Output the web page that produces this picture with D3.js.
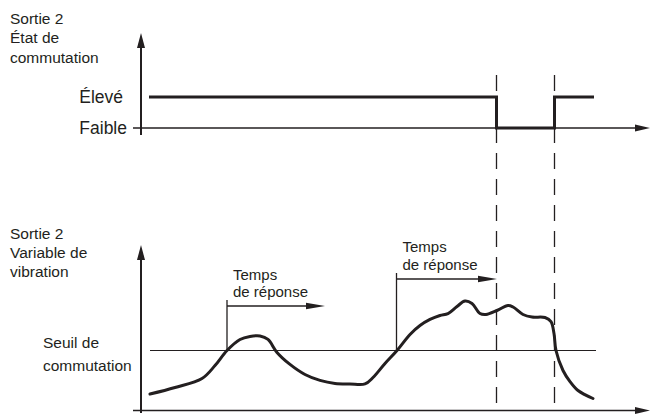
<!DOCTYPE html>
<html>
<head>
<meta charset="utf-8">
<script src="https://cdn.jsdelivr.net/npm/d3@7/dist/d3.min.js"></script>
<style>
  html, body { margin: 0; padding: 0; background: #fff; }
  svg { display: block; }
  text { font-family: "Liberation Sans", Arial, Helvetica, sans-serif; font-size: 15.5px; fill: #231f20; }
  text.state { font-size: 17.5px; }
  text.resp { font-size: 15px; }
</style>
</head>
<body>
<svg id="chart" width="651" height="416"></svg>
<script>
// ---------- DATA ----------
// time axis (arbitrary units 0..100)
const vibTime = [1.8, 6.8, 12.2, 14.8, 17.2, 19.8, 21.8, 23.8, 25.4, 27.2, 29.8, 32.8, 35.8, 38.8, 41.8, 44.8,
                 46.4, 48.8, 51.2, 53.8, 55.8, 57.8, 59.8, 61.4, 63.2, 64.8, 66.2, 67.8, 69.0, 71.2, 73.4, 74.4,
                 76.4, 78.2, 80.8, 82.0, 82.6, 83.0, 84.4, 85.8, 87.4, 90.4];
const vibValue = [10.3, 14.4, 20.0, 28.1, 37.5, 44.4, 46.3, 46.6, 44.4, 36.3, 28.8, 22.5, 18.8, 16.9, 16.6, 16.6,
                  20.6, 29.4, 37.5, 47.5, 53.1, 56.9, 59.4, 60.6, 65.0, 68.4, 66.9, 60.6, 60.0, 62.5, 65.6, 64.7,
                  60.0, 58.4, 58.1, 55.6, 48.1, 37.5, 25.0, 18.1, 12.5, 7.5];
const threshold = 37.5;
const thresholdSpan = [1.8, 91.0];

const stateTime  = [1.6, 71.1, 82.7, 90.6];
const stateValue = [1, 0, 1, 1];           // 1 = Élevé, 0 = Faible
const stateLabels = ["Faible", "Élevé"];

const switchTimes = [71.1, 82.7];
const responseStart = [17.2, 51.1];
const responseEnd   = [36.8, 71.2];

const topTitle    = ["Sortie 2", "État de", "commutation"];
const bottomTitle = ["Sortie 2", "Variable de", "vibration"];
const thresholdLabel = ["Seuil de", "commutation"];
const responseLabel  = ["Temps", "de réponse"];

// ---------- SCALES ----------
const ink = "#231f20";
const svg = d3.select("#chart");

const x = d3.scaleLinear().domain([0, 100]).range([141, 641]);
const yState = d3.scaleLinear().domain([0, 1]).range([128, 97]);
const yVib = d3.scaleLinear().domain([0, 100]).range([410.5, 250.5]);

function arrowHead(g, tipX, tipY, dir, len, half) {
  let pts;
  if (dir === "right") pts = [[tipX, tipY], [tipX - len, tipY - half], [tipX - len, tipY + half]];
  else pts = [[tipX, tipY], [tipX - half, tipY + len], [tipX + half, tipY + len]];
  g.append("path").attr("d", d3.line()(pts) + "Z").attr("fill", ink);
}

// ---------- TOP PANEL ----------
const gTop = svg.append("g");
gTop.append("line").attr("x1", x(0)).attr("x2", x(0)).attr("y1", 135).attr("y2", 44)
  .attr("stroke", ink).attr("stroke-width", 2);
arrowHead(gTop, x(0), 33, "up", 15, 4);
gTop.append("line").attr("x1", 133).attr("x2", 640).attr("y1", yState(0)).attr("y2", yState(0))
  .attr("stroke", ink).attr("stroke-width", 1.3);
arrowHead(gTop, 650, yState(0), "right", 15, 3.5);

gTop.append("path")
  .datum(stateTime.map((t, i) => [t, stateValue[i]]))
  .attr("d", d3.line().x(d => x(d[0])).y(d => yState(d[1])).curve(d3.curveStepAfter))
  .attr("fill", "none").attr("stroke", ink).attr("stroke-width", 3);

gTop.append("text").attr("class", "state").attr("x", 123).attr("y", yState(1) + 6.3)
  .attr("text-anchor", "end").text(stateLabels[1]);
gTop.append("text").attr("class", "state").attr("x", 127).attr("y", yState(0) + 6.3)
  .attr("text-anchor", "end").text(stateLabels[0]);

gTop.selectAll("text.title").data(topTitle).join("text").attr("class", "title")
  .attr("x", 10).attr("y", (d, i) => 23.5 + i * 19.5).text(d => d);

// ---------- BOTTOM PANEL ----------
const gBot = svg.append("g");
gBot.append("line").attr("x1", x(0)).attr("x2", x(0)).attr("y1", 413).attr("y2", 256)
  .attr("stroke", ink).attr("stroke-width", 2);
arrowHead(gBot, x(0), 245, "up", 15, 4);
gBot.append("line").attr("x1", 133).attr("x2", 640).attr("y1", yVib(0)).attr("y2", yVib(0))
  .attr("stroke", ink).attr("stroke-width", 1.4);
arrowHead(gBot, 650, yVib(0), "right", 15, 3.5);

gBot.append("line").attr("x1", x(thresholdSpan[0])).attr("x2", x(thresholdSpan[1]))
  .attr("y1", yVib(threshold)).attr("y2", yVib(threshold))
  .attr("stroke", ink).attr("stroke-width", 1.2);

gBot.append("path")
  .datum(vibTime.map((t, i) => [t, vibValue[i]]))
  .attr("d", d3.line().x(d => x(d[0])).y(d => yVib(d[1])).curve(d3.curveCatmullRom.alpha(0.5)))
  .attr("fill", "none").attr("stroke", ink).attr("stroke-width", 3)
  .attr("stroke-linejoin", "round").attr("stroke-linecap", "round");

gBot.selectAll("text.title").data(bottomTitle).join("text").attr("class", "title")
  .attr("x", 10).attr("y", (d, i) => 238.5 + i * 19).text(d => d);
gBot.selectAll("text.thr").data(thresholdLabel).join("text").attr("class", "thr")
  .attr("x", 43).attr("y", (d, i) => 348 + i * 23).text(d => d);

const arrowY = [306, 279];
const labelBase = [279.5, 252];
responseStart.forEach((s, i) => {
  const g = gBot.append("g");
  g.append("line").attr("x1", x(s)).attr("x2", x(s)).attr("y1", arrowY[i] - 6).attr("y2", yVib(threshold))
    .attr("stroke", ink).attr("stroke-width", 1.3);
  g.append("line").attr("x1", x(s)).attr("x2", x(responseEnd[i]) - 10).attr("y1", arrowY[i]).attr("y2", arrowY[i])
    .attr("stroke", ink).attr("stroke-width", 1.3);
  arrowHead(g, x(responseEnd[i]), arrowY[i], "right", 19, 3.3);
  g.selectAll("text").data(responseLabel).join("text").attr("class", "resp")
    .attr("x", x(s) + 6).attr("y", (d, j) => labelBase[i] + j * 17.5).text(d => d);
});

// ---------- DASHED SWITCH LINES ----------
svg.selectAll("line.switch").data(switchTimes).join("line").attr("class", "switch")
  .attr("x1", d => x(d)).attr("x2", d => x(d)).attr("y1", 75).attr("y2", 412)
  .attr("stroke", ink).attr("stroke-width", 1.3).attr("stroke-dasharray", "16,10");
</script>
</body>
</html>
